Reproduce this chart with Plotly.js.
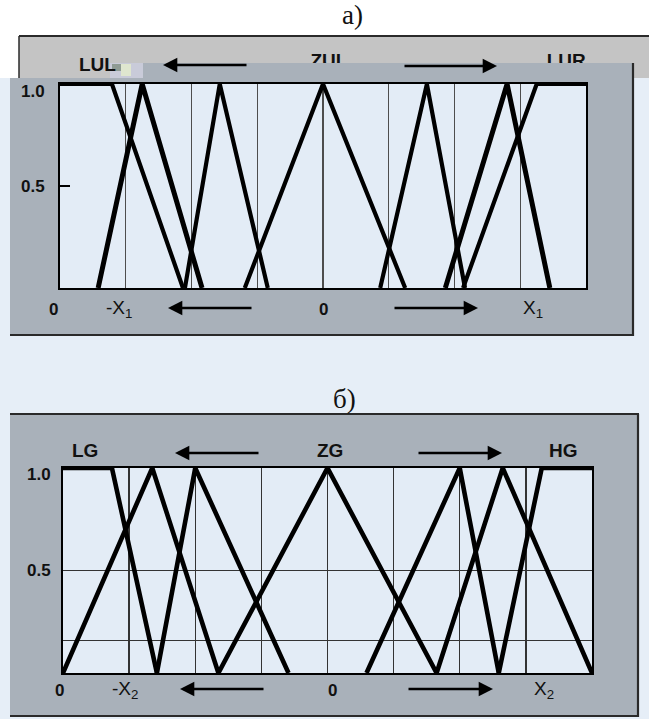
<!DOCTYPE html>
<html>
<head>
<meta charset="utf-8">
<script src="https://cdn.plot.ly/plotly-3.0.1.min.js"></script>
<style>
  html, body { margin: 0; padding: 0; background: #e6eef7; }
  #chart { width: 649px; height: 719px; }
</style>
</head>
<body>
<div id="chart"></div>
<script>
// ---- Membership functions, panel а) (normalised universe -4 … 4) ----
const topLUL_x = [-4, -3.21, -2.13];
const topT1_x  = [-3.42, -2.75, -1.84];
const topT2_x  = [-2.10, -1.57, -0.84];
const topZUL_x = [-1.19, 0, 1.25];
const topT3_x  = [0.87, 1.58, 2.16];
const topT4_x  = [1.86, 2.80, 3.45];
const topLUR_x = [2.13, 3.25, 4];

// ---- Membership functions, panel б) ----
const botLG_x = [-4, -3.26, -2.58];
const botT1_x = [-4, -2.65, -1.65];
const botT2_x = [-2.58, -2.0, -0.59];
const botZG_x = [-1.65, 0, 1.65];
const botT3_x = [0.59, 2.0, 2.59];
const botT4_x = [1.65, 2.65, 4];
const botHG_x = [2.59, 3.24, 4];

// membership degrees at the breakpoints
const shoulderLeft_y  = [1, 1, 0];
const triangle_y      = [0, 1, 0];
const shoulderRight_y = [0, 1, 1];

// labels
const topTermLabels = ['LUL', 'ZUL', 'LUR'];
const botTermLabels = ['LG', 'ZG', 'HG'];
const yTickText = ['1.0', '0.5'];
const yTickVals = [1.0, 0.5];
const topXTickText = ['0', '-X<sub>1</sub>', '0', 'X<sub>1</sub>'];
const botXTickText = ['0', '-X<sub>2</sub>', '0', 'X<sub>2</sub>'];
const topXTickPos = [-4.1, -3.1, 0, 3.2];
const botXTickPos = [-4.05, -3.06, 0.08, 3.27];
const gridVals = [-3, -2, -1, 0, 1, 2, 3];
const botHGridVals = [0.16, 0.5];

// ---- page geometry helpers (pixel -> paper fraction) ----
const W = 649, H = 719;
const P = x => x / W;
const Q = y => 1 - y / H;

const INK = '#000000';
const PANEL = '#a9b1ba';
const PLOTBG = '#e3ecf6';
const EDGE = '#2a2a2a';

const topDomain = [P(60), P(586)];
const botDomain = [P(63), P(592)];
const XRANGE = [-4, 4];
// universe value -> paper fraction along a subplot's x domain
const u2p = (u, dom) => dom[0] + (u - XRANGE[0]) / (XRANGE[1] - XRANGE[0]) * (dom[1] - dom[0]);

function mf(x, y, xa, ya, w) {
  return {
    x: x, y: y, xaxis: xa, yaxis: ya, type: 'scatter', mode: 'lines',
    line: { color: INK, width: w || 4.2 }, cliponaxis: false,
    hoverinfo: 'skip', showlegend: false
  };
}

const traces = [
  mf(topLUL_x, shoulderLeft_y, 'x', 'y', 4.2),
  mf(topT1_x, triangle_y, 'x', 'y', 5),
  mf(topT2_x, triangle_y, 'x', 'y', 4.2),
  mf(topZUL_x, triangle_y, 'x', 'y', 4.2),
  mf(topT3_x, triangle_y, 'x', 'y', 4.2),
  mf(topT4_x, triangle_y, 'x', 'y', 5),
  mf(topLUR_x, shoulderRight_y, 'x', 'y', 4.2),

  mf(botLG_x, shoulderLeft_y, 'x2', 'y2', 4.6),
  mf(botT1_x, triangle_y, 'x2', 'y2', 4.6),
  mf(botT2_x, triangle_y, 'x2', 'y2', 4.6),
  mf(botZG_x, triangle_y, 'x2', 'y2', 4.6),
  mf(botT3_x, triangle_y, 'x2', 'y2', 4.6),
  mf(botT4_x, triangle_y, 'x2', 'y2', 4.6),
  mf(botHG_x, shoulderRight_y, 'x2', 'y2', 4.6),

  // term names in the header strip of panel а), clipped by the strip
  {
    x: [0.09, 3.7], y: [0.03, 0.03], xaxis: 'x3', yaxis: 'y3',
    type: 'scatter', mode: 'text', text: topTermLabels.slice(1),
    textposition: 'middle center', cliponaxis: true,
    textfont: { family: 'Liberation Sans, Arial, sans-serif', size: 19, color: '#111', weight: 'bold' },
    hoverinfo: 'skip', showlegend: false
  }
];

// ---- background shapes ----
function rect(x0, y0, x1, y1, fill, line) {
  return {
    type: 'rect', xref: 'paper', yref: 'paper', layer: 'below',
    x0: P(x0), x1: P(x1), y0: Q(y1), y1: Q(y0),
    fillcolor: fill, line: line || { width: 0 }
  };
}
function seg(x0, y0, x1, y1, color, width) {
  return {
    type: 'line', xref: 'paper', yref: 'paper', layer: 'below',
    x0: P(x0), x1: P(x1), y0: Q(y0), y1: Q(y1),
    line: { color: color, width: width }
  };
}

const topPanelPath =
  `M${P(10)},${Q(78)} L${P(110)},${Q(78)} L${P(110)},${Q(63)} L${P(633)},${Q(63)} ` +
  `L${P(633)},${Q(335)} L${P(10)},${Q(335)} Z`;

const shapes = [
  rect(0, 0, 649, 36, '#ffffff'),
  rect(0, 36, 19, 78, '#ffffff'),
  rect(19, 36, 652, 78, '#c4c4c4'),
  seg(19, 36, 652, 36, EDGE, 2),
  seg(19, 36, 19, 78, EDGE, 1.5),
  { type: 'path', xref: 'paper', yref: 'paper', layer: 'below', path: topPanelPath,
    fillcolor: PANEL, line: { width: 0 } },
  seg(633, 63, 633, 336, EDGE, 2.2),
  seg(10, 335, 634, 335, EDGE, 2.2),
  // scan noise next to the first header label
  rect(110, 63, 143, 78, '#c9cbd9'),
  rect(112, 64, 121, 71, '#8f9b94'),
  rect(121, 64, 131, 76, '#dfe6cf'),
  rect(60, 84, 586, 288, PLOTBG),

  rect(10, 414, 638, 716, PANEL),
  seg(10, 414, 639, 414, EDGE, 2.2),
  seg(638, 414, 638, 717, EDGE, 2.2),
  seg(10, 716, 639, 716, EDGE, 2.2),
  rect(63, 468, 592, 673, PLOTBG)
];

// ---- annotations ----
const labelFont = { family: 'Liberation Sans, Arial, sans-serif', size: 17, color: '#111' };
const termFont = Object.assign({}, labelFont, { size: 19, weight: 'bold' });
const annotations = [];

function txt(x, y, text, font, extra) {
  annotations.push(Object.assign({
    xref: 'paper', yref: 'paper', x: P(x), y: Q(y), text: text,
    showarrow: false, xanchor: 'center', yanchor: 'middle', font: font
  }, extra || {}));
}
function arrow(xTail, yTail, xHead, yHead) {
  annotations.push({
    xref: 'paper', yref: 'paper', x: P(xHead), y: Q(yHead),
    axref: 'pixel', ayref: 'pixel', ax: xTail - xHead, ay: yTail - yHead,
    text: '', showarrow: true, arrowhead: 2, arrowsize: 1.1, arrowwidth: 2.6,
    arrowcolor: INK, standoff: 0, startstandoff: 0
  });
}

const serif = { family: 'Liberation Serif, DejaVu Serif, serif', size: 27, color: '#111' };
txt(352, 15, 'а)', serif);
txt(344, 399, 'б)', serif);

// header labels
txt(97, 65, topTermLabels[0], termFont);
const botTermPix = [85, 330, 563];
botTermLabels.forEach((t, i) => txt(botTermPix[i], 450, t, termFont));

// arrows
arrow(248, 65, 163, 65);
arrow(403, 66, 497, 66);
arrow(253, 308, 168, 308);
arrow(393, 308, 478, 308);
arrow(260, 453, 175, 453);
arrow(417, 453, 502, 453);
arrow(265, 689, 180, 689);
arrow(407, 689, 493, 689);

// y tick labels
function yLabels(yref, xRight, shiftTop) {
  yTickText.forEach((t, i) => {
    annotations.push({
      xref: 'paper', yref: yref, x: P(xRight), y: yTickVals[i], text: t,
      showarrow: false, xanchor: 'right', yanchor: 'middle',
      yshift: yTickVals[i] === 1 ? shiftTop : 0,
      font: Object.assign({}, labelFont, { weight: 'bold' })
    });
  });
}
yLabels('y', 47, -7);
yLabels('y2', 53, -6);

// x tick labels
function xLabels(dom, texts, pos, yPix) {
  texts.forEach((t, i) => {
    const isZero = t === '0';
    annotations.push({
      xref: 'paper', yref: 'paper', x: u2p(pos[i], dom), y: Q(yPix), text: t,
      showarrow: false, xanchor: 'center', yanchor: 'middle',
      font: Object.assign({}, labelFont, isZero ? { weight: 'bold' } : { size: 19, weight: 'normal' })
    });
  });
}
xLabels(topDomain, topXTickText, topXTickPos, 309);
xLabels(botDomain, botXTickText, botXTickPos, 690);

// ---- axes ----
const frame = {
  zeroline: false, showline: true, mirror: true, linecolor: INK, linewidth: 2,
  fixedrange: true, showticklabels: false
};

const layout = {
  width: W, height: H, autosize: false,
  margin: { l: 0, r: 0, t: 0, b: 0 },
  paper_bgcolor: '#e6eef7', plot_bgcolor: 'rgba(0,0,0,0)',
  showlegend: false,
  xaxis: Object.assign({}, frame, {
    domain: topDomain, range: XRANGE, anchor: 'y',
    tickvals: gridVals, ticks: '', showgrid: true, gridcolor: '#4d4d4d', gridwidth: 1.4
  }),
  yaxis: Object.assign({}, frame, {
    domain: [Q(288), Q(84)], range: [0, 1], anchor: 'x',
    tickvals: [0.5], ticks: 'inside', ticklen: 10, tickwidth: 1.5, tickcolor: INK,
    showgrid: false
  }),
  xaxis2: Object.assign({}, frame, {
    domain: botDomain, range: XRANGE, anchor: 'y2',
    tickvals: gridVals, ticks: '', showgrid: true, gridcolor: '#333333', gridwidth: 1.4
  }),
  yaxis2: Object.assign({}, frame, {
    domain: [Q(673), Q(468)], range: [0, 1], anchor: 'x2',
    tickvals: botHGridVals, ticks: '', showgrid: true, gridcolor: '#333333', gridwidth: 1.4
  }),
  xaxis3: {
    domain: topDomain, range: XRANGE, anchor: 'y3', visible: false, fixedrange: true
  },
  yaxis3: {
    domain: [Q(63), Q(36)], range: [0, 1], anchor: 'x3', visible: false, fixedrange: true
  },
  shapes: shapes,
  annotations: annotations
};

Plotly.newPlot('chart', traces, layout, { displayModeBar: false, staticPlot: true });
</script>
</body>
</html>
